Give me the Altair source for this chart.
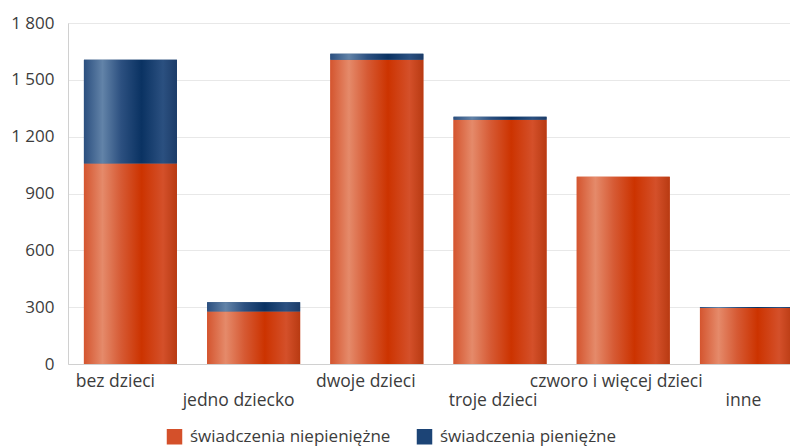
import altair as alt
import pandas as pd

categories = ["bez dzieci", "jedno dziecko", "dwoje dzieci", "troje dzieci",
              "czworo i więcej dzieci", "inne"]
niepieniezne = [1058, 277, 1606, 1289, 989, 296]
pieniezne = [548, 49, 32, 16, 0, 5]
series = ["świadczenia niepieniężne", "świadczenia pieniężne"]
y_ticks = [0, 300, 600, 900, 1200, 1500, 1800]
lower_labels = ["jedno dziecko", "troje dzieci", "inne"]

df = pd.DataFrame({"cat": categories, "nie": niepieniezne, "pie": pieniezne})
df["total"] = df["nie"] + df["pie"]

long = pd.concat([
    pd.DataFrame({"cat": categories, "series": series[0], "y0": 0, "y1": df["nie"]}),
    pd.DataFrame({"cat": categories, "series": series[1], "y0": df["nie"], "y1": df["total"]}),
])

FONT = "Open Sans"
TXT = "#3c3c3c"

lower_js = "[" + ",".join("'" + s + "'" for s in lower_labels) + "]"

# small per-label horizontal shifts of the category labels (style only)
label_shift = {"bez dzieci": -15, "jedno dziecko": -15, "dwoje dzieci": -11,
               "troje dzieci": -7, "czworo i więcej dzieci": -7, "inne": -3}
label_offset = {
    "condition": [{"test": f"datum.value == '{k}'", "value": v} for k, v in label_shift.items()],
    "value": -9,
}

x_enc = alt.X(
    "cat:N", sort=categories, title=None,
    scale=alt.Scale(paddingInner=0.245, paddingOuter=0.085, align=0.76),
    axis=alt.Axis(
        labelAngle=0, labelFont=FONT, labelFontSize=17.5, labelColor=TXT,
        labelPadding=8, labelOffset=label_offset, labelLineHeight=19, labelBaseline="top",
        labelLimit=400, ticks=False, domainColor="#d0d0d0", domainWidth=1, grid=False,
        labelExpr=f"indexof({lower_js}, datum.value) >= 0 ? ['', datum.value] : datum.value",
    ),
)
y_scale = alt.Scale(domain=[0, 1800], nice=False)
y_axis = alt.Axis(
    values=y_ticks, title=None, labelFont=FONT, labelFontSize=17, labelColor=TXT,
    labelPadding=14, ticks=False, domainColor="#d0d0d0", domainWidth=1,
    gridColor="#e8e8e8", gridWidth=1,
    labelExpr="replace(format(datum.value, ','), ',', ' ')",
)

orange_grad = alt.Gradient(
    gradient="linear", x1=0, x2=1, y1=0, y2=0,
    stops=[
        alt.GradientStop(offset=0, color="#d4552f"),
        alt.GradientStop(offset=0.2, color="#e58a6a"),
        alt.GradientStop(offset=0.4, color="#d65a34"),
        alt.GradientStop(offset=0.62, color="#cc3300"),
        alt.GradientStop(offset=0.85, color="#d4502a"),
        alt.GradientStop(offset=1, color="#b83a12"),
    ],
)
blue_grad = alt.Gradient(
    gradient="linear", x1=0, x2=1, y1=0, y2=0,
    stops=[
        alt.GradientStop(offset=0, color="#2b4f7f"),
        alt.GradientStop(offset=0.2, color="#6283a8"),
        alt.GradientStop(offset=0.4, color="#2c5080"),
        alt.GradientStop(offset=0.62, color="#0a3262"),
        alt.GradientStop(offset=0.85, color="#2b5080"),
        alt.GradientStop(offset=1, color="#1c3c68"),
    ],
)

legend_layer = alt.Chart(long).mark_bar().encode(
    x=x_enc,
    y=alt.Y("y0:Q", scale=y_scale, axis=y_axis),
    y2="y1:Q",
    color=alt.Color(
        "series:N", sort=series,
        scale=alt.Scale(domain=series, range=["#d4502a", "#1c4476"]),
        legend=alt.Legend(
            title=None, orient="none", direction="horizontal",
            legendX=98, legendY=405,
            symbolType="square", symbolSize=240, symbolStrokeWidth=0,
            labelFont=FONT, labelFontSize=17, labelColor=TXT, labelLimit=400,
            labelOffset=7, columnPadding=25,
        ),
    ),
)

orange_layer = alt.Chart(df).mark_bar(color=orange_grad).encode(
    x=alt.X("cat:N", sort=categories),
    y=alt.Y("nie:Q", scale=y_scale),
    y2=alt.datum(0),
)
blue_layer = alt.Chart(df).mark_bar(color=blue_grad).encode(
    x=alt.X("cat:N", sort=categories),
    y=alt.Y("total:Q", scale=y_scale),
    y2="nie:Q",
)

chart = alt.layer(legend_layer, orange_layer, blue_layer).properties(
    width=730, height=341,
    autosize=alt.AutoSizeParams(type="none"),
    padding={"left": 60, "top": 15, "right": -8, "bottom": 82},
).configure_view(stroke=None).configure(background="white")

chart.save("out.html", embed_options={"renderer": "svg", "actions": False})
